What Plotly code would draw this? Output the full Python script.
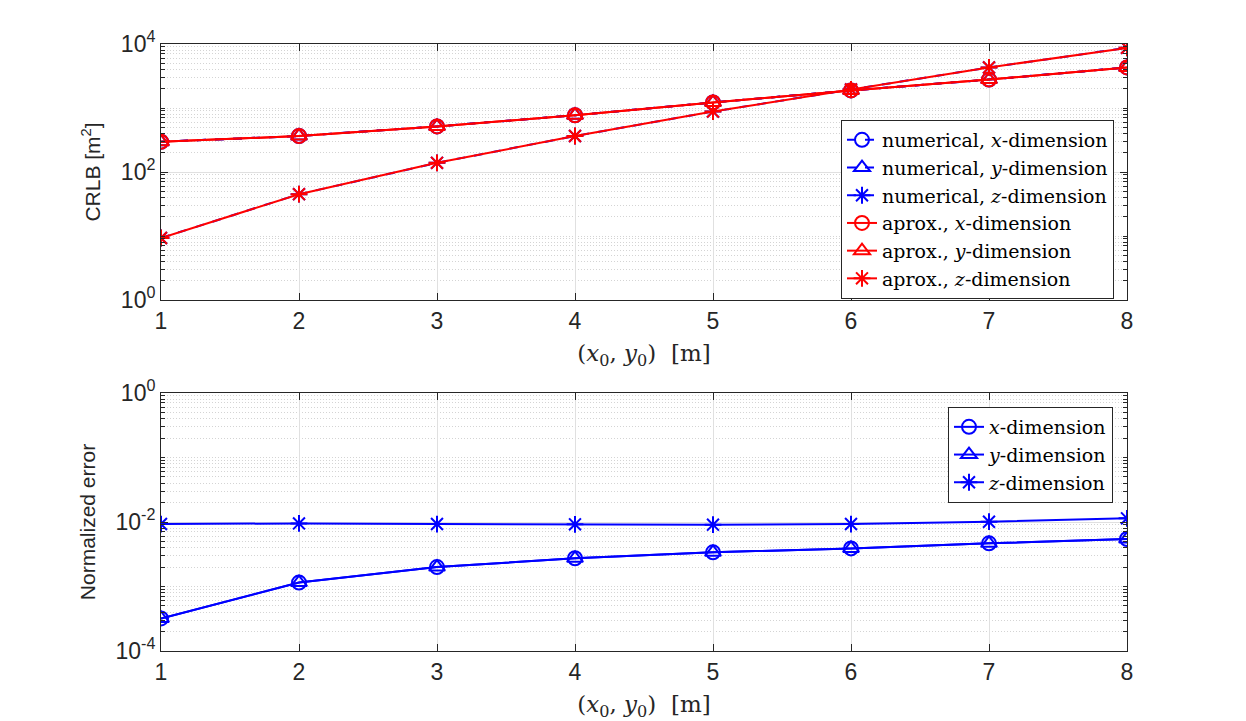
import plotly.graph_objects as go

x_vals = [1, 2, 3, 4, 5, 6, 7, 8]

# Top panel: CRLB [m^2]
crlb_x = [297, 365, 515, 770, 1220, 1880, 2780, 4300]
crlb_y = [297, 365, 515, 770, 1220, 1880, 2780, 4300]
crlb_z = [9.3, 45, 139, 365, 880, 1950, 4300, 8700]

# Bottom panel: normalized error
err_x = [3.2e-4, 1.15e-3, 2.0e-3, 2.74e-3, 3.39e-3, 3.9e-3, 4.67e-3, 5.45e-3]
err_y = [3.2e-4, 1.15e-3, 2.0e-3, 2.74e-3, 3.39e-3, 3.9e-3, 4.67e-3, 5.45e-3]
err_z = [0.0093, 0.0095, 0.0093, 0.0092, 0.0091, 0.0093, 0.0101, 0.0114]

top_ticks = [1, 100, 10000]
top_ticktext = ["10<sup>0</sup>", "10<sup>2</sup>", "10<sup>4</sup>"]
bot_ticks = [1e-4, 1e-2, 1]
bot_ticktext = ["10<sup>-4</sup>", "10<sup>-2</sup>", "10<sup>0</sup>"]

BLUE = "#0000FF"
RED = "#FF0000"
W, H = 1246, 721
OFF = 8  # page body margin

fig = go.Figure()

def add(y, name, color, symbol, dash, xa, ya, legend):
    fig.add_trace(go.Scatter(
        x=x_vals, y=y, name=name, mode="lines+markers",
        line=dict(color=color, width=2, dash=dash),
        marker=dict(symbol=symbol, size=14, color=color,
                    line=dict(color=color, width=2)),
        xaxis=xa, yaxis=ya, legend=legend))

add(crlb_x, "numerical, <i>x</i>-dimension", BLUE, "circle-open", "dash", "x", "y", "legend")
add(crlb_y, "numerical, <i>y</i>-dimension", BLUE, "triangle-up-open", "dash", "x", "y", "legend")
add(crlb_z, "numerical, <i>z</i>-dimension", BLUE, "asterisk-open", "dash", "x", "y", "legend")
add(crlb_x, "aprox., <i>x</i>-dimension", RED, "circle-open", "solid", "x", "y", "legend")
add(crlb_y, "aprox., <i>y</i>-dimension", RED, "triangle-up-open", "solid", "x", "y", "legend")
add(crlb_z, "aprox., <i>z</i>-dimension", RED, "asterisk-open", "solid", "x", "y", "legend")

add(err_x, "<i>x</i>-dimension", BLUE, "circle-open", "solid", "x2", "y2", "legend2")
add(err_y, "<i>y</i>-dimension", BLUE, "triangle-up-open", "solid", "x2", "y2", "legend2")
add(err_z, "<i>z</i>-dimension", BLUE, "asterisk-open", "solid", "x2", "y2", "legend2")

def minor_vals(lo, hi):
    vals = []
    for e in range(lo, hi):
        for m in range(2, 10):
            vals.append(m * 10 ** e)
    for e in range(lo, hi + 1):
        vals.append(10 ** e)
    return vals

AX = "#262626"
GRID = "#e0e0e0"
MINOR = "#d4d4d4"
sans = "Liberation Sans, Arial, sans-serif"
tickfont = dict(family=sans, size=23, color=AX)
serif = "DejaVu Serif, Liberation Serif, serif"

xcommon = dict(range=[1, 8], dtick=1, tick0=1, ticks="inside", ticklen=7,
               tickcolor=AX, showline=True, linecolor=AX, linewidth=1,
               mirror="ticks", showgrid=True, gridcolor=GRID, gridwidth=1,
               zeroline=False, tickfont=tickfont, automargin=False,
               title=dict(text="(<i>x</i><sub>0</sub>, <i>y</i><sub>0</sub>)  [m]",
                          font=dict(family=serif, size=23, color=AX), standoff=12))

def ycommon(lo, hi, tv, tt, title, standoff):
    return dict(type="log", range=[lo, hi], tickvals=tv, ticktext=tt,
                ticks="inside", ticklen=7, tickcolor=AX, showline=True,
                linecolor=AX, linewidth=1, mirror="ticks", showgrid=True,
                gridcolor=GRID, gridwidth=1, zeroline=False, tickfont=tickfont,
                automargin=False,
                minor=dict(tickvals=minor_vals(lo, hi), ticks="inside",
                           ticklen=4, tickcolor=AX, showgrid=True,
                           gridcolor=MINOR, griddash="1px,2px", gridwidth=1),
                title=dict(text=title, font=dict(family=sans, size=21, color=AX),
                           standoff=standoff))

def px_x(p):
    return (p - OFF) / W

def px_y(p):
    return 1 - (p - OFF) / H

legend_font = dict(family=serif, size=19, color="black")

fig.update_layout(
    width=W, height=H,
    margin=dict(l=0, r=0, t=0, b=0),
    paper_bgcolor="white", plot_bgcolor="white",
    xaxis=dict(domain=[px_x(161), px_x(1127)], anchor="y", **xcommon),
    xaxis2=dict(domain=[px_x(161), px_x(1127)], anchor="y2", **xcommon),
    yaxis=dict(domain=[px_y(300), px_y(44)], anchor="x",
               **ycommon(0, 4, top_ticks, top_ticktext, "CRLB [m<sup>2</sup>]", 14)),
    yaxis2=dict(domain=[px_y(651), px_y(393)], anchor="x2",
                **ycommon(-4, 0, bot_ticks, bot_ticktext, "Normalized error", 14)),
    legend=dict(x=px_x(1114), xanchor="right", y=px_y(120), yanchor="top",
                bgcolor="white", bordercolor=AX, borderwidth=1,
                font=legend_font, itemwidth=30, tracegroupgap=0),
    legend2=dict(x=px_x(1113), xanchor="right", y=px_y(407), yanchor="top",
                 bgcolor="white", bordercolor=AX, borderwidth=1,
                 font=legend_font, itemwidth=30, tracegroupgap=0),
    showlegend=True,
)

fig.write_html("out.html")
